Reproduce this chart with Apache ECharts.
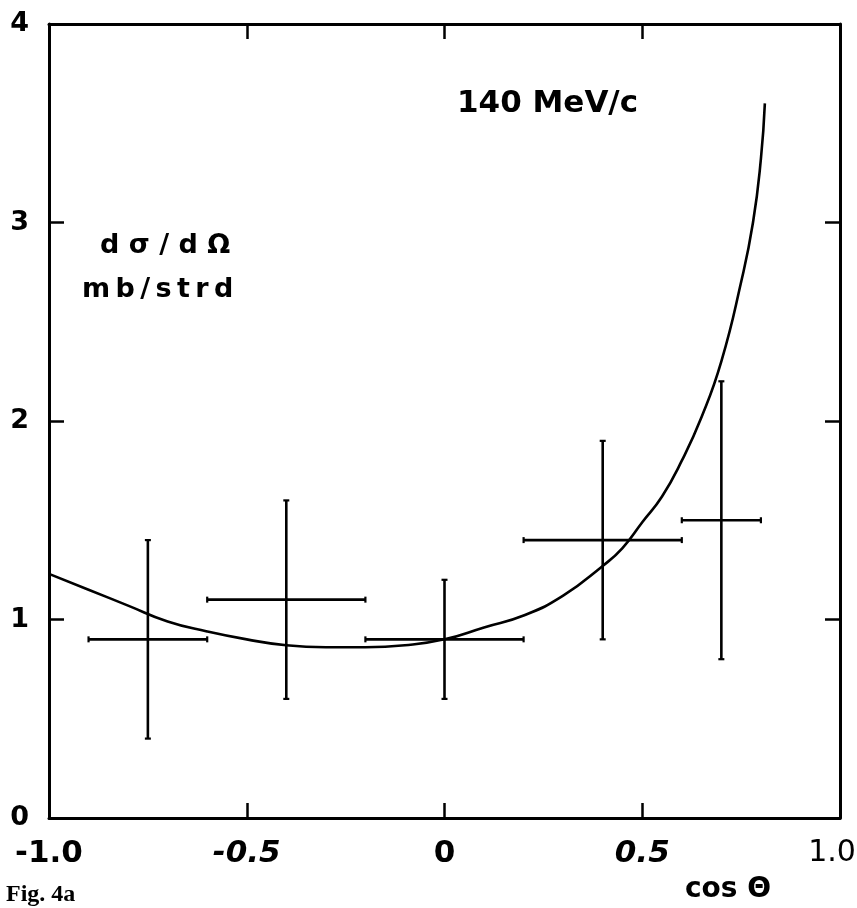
<!DOCTYPE html>
<html>
<head>
<meta charset="utf-8">
<script src="https://cdn.jsdelivr.net/npm/echarts@6/dist/echarts.min.js"></script>
<style>
  html, body { margin: 0; padding: 0; background: #ffffff; overflow: hidden; }
  #chart { width: 857px; height: 908px; }
</style>
</head>
<body>
<div id="chart"></div>
<script>
// Measured points: cos(theta), dσ/dΩ with horizontal bin and vertical error ranges
var pointX   = [-0.75, -0.4, 0.0, 0.4, 0.7];
var pointY   = [0.9, 1.1, 0.9, 1.4, 1.5];
var binLow   = [-0.9, -0.6, -0.2, 0.2, 0.6];
var binHigh  = [-0.6, -0.2, 0.2, 0.6, 0.8];
var errLow   = [0.4, 0.6, 0.6, 0.9, 0.8];
var errHigh  = [1.4, 1.6, 1.2, 1.9, 2.2];

// Theoretical curve
var curveX = [-1.0, -0.9, -0.8, -0.7, -0.6, -0.5, -0.4, -0.3, -0.2, -0.1, 0.0, 0.1, 0.2, 0.3, 0.4, 0.45, 0.5, 0.55, 0.6, 0.65, 0.7, 0.75, 0.78, 0.8, 0.81];
var curveY = [1.23, 1.15, 1.07, 0.99, 0.94, 0.90, 0.87, 0.86, 0.86, 0.87, 0.90, 0.96, 1.02, 1.12, 1.27, 1.36, 1.49, 1.62, 1.80, 2.02, 2.30, 2.70, 3.00, 3.32, 3.60];

// Axis tick labels
var xTickValues = [-1.0, -0.5, 0.0, 0.5, 1.0];
var xTickLabels = ['-1.0', '-0.5', '0', '0.5', '1.0'];
var xTickStyles = ['b', 'i', 'b', 'i', 'n'];
var yTickLabels = ['0', '1', '2', '3', '4'];

var FONT = 'DejaVu Sans';

var errorData = pointX.map(function (x, i) {
  return [x, pointY[i], binLow[i], binHigh[i], errLow[i], errHigh[i]];
});
var curveData = curveX.map(function (x, i) { return [x, curveY[i]]; });

function renderErrorBar(params, api) {
  var c  = api.coord([api.value(0), api.value(1)]);
  var xl = api.coord([api.value(2), api.value(1)]);
  var xh = api.coord([api.value(3), api.value(1)]);
  var yl = api.coord([api.value(0), api.value(4)]);
  var yh = api.coord([api.value(0), api.value(5)]);
  var cap = 3;
  var style = { stroke: '#000', lineWidth: 2.6, fill: null };
  var capStyle = { stroke: '#000', lineWidth: 2.2, fill: null };
  return {
    type: 'group',
    children: [
      { type: 'line', shape: { x1: xl[0], y1: c[1], x2: xh[0], y2: c[1] }, style: style },
      { type: 'line', shape: { x1: c[0], y1: yl[1], x2: c[0], y2: yh[1] }, style: style },
      { type: 'line', shape: { x1: xl[0], y1: c[1] - cap, x2: xl[0], y2: c[1] + cap }, style: capStyle },
      { type: 'line', shape: { x1: xh[0], y1: c[1] - cap, x2: xh[0], y2: c[1] + cap }, style: capStyle },
      { type: 'line', shape: { x1: c[0] - cap, y1: yl[1], x2: c[0] + cap, y2: yl[1] }, style: capStyle },
      { type: 'line', shape: { x1: c[0] - cap, y1: yh[1], x2: c[0] + cap, y2: yh[1] }, style: capStyle }
    ]
  };
}

var frameLine = { show: true, onZero: false, lineStyle: { color: '#000', width: 3 } };
var innerTick = { show: true, inside: true, length: 15, lineStyle: { color: '#000', width: 2.5 } };

var chart = echarts.init(document.getElementById('chart'), null, { renderer: 'canvas' });
chart.setOption({
  backgroundColor: '#ffffff',
  animation: false,
  grid: { left: 49, right: 17, top: 24, bottom: 90, containLabel: false, outerBoundsMode: 'none' },
  xAxis: [
    {
      type: 'value', position: 'bottom', min: -1, max: 1, interval: 0.5,
      axisLine: frameLine, axisTick: innerTick, splitLine: { show: false },
      axisLabel: {
        margin: 20,
        formatter: function (v) {
          for (var i = 0; i < xTickValues.length; i++) {
            if (Math.abs(v - xTickValues[i]) < 1e-9) {
              return '{' + xTickStyles[i] + '|' + xTickLabels[i] + '}';
            }
          }
          return '';
        },
        rich: {
          b: { fontFamily: FONT, fontWeight: 'bold', fontSize: 31, color: '#000' },
          i: { fontFamily: FONT, fontWeight: 'bold', fontStyle: 'italic', fontSize: 31, color: '#000' },
          n: { fontFamily: FONT, fontWeight: 'normal', fontSize: 30, color: '#000', padding: [0, 16, 0, 0] }
        }
      }
    },
    {
      type: 'value', position: 'top', min: -1, max: 1, interval: 0.5,
      axisLine: frameLine, axisTick: innerTick, splitLine: { show: false },
      axisLabel: { show: false }
    }
  ],
  yAxis: [
    {
      type: 'value', position: 'left', min: 0, max: 4, interval: 1,
      axisLine: frameLine, axisTick: innerTick, splitLine: { show: false },
      axisLabel: {
        margin: 20,
        fontFamily: FONT, fontWeight: 'bold', fontSize: 27, color: '#000',
        formatter: function (v) { return yTickLabels[Math.round(v)]; }
      }
    },
    {
      type: 'value', position: 'right', min: 0, max: 4, interval: 1,
      axisLine: frameLine, axisTick: innerTick, splitLine: { show: false },
      axisLabel: { show: false }
    }
  ],
  series: [
    {
      type: 'line',
      data: curveData,
      smooth: true,
      showSymbol: false,
      lineStyle: { color: '#000', width: 2.6 },
      z: 3
    },
    {
      type: 'custom',
      data: errorData,
      renderItem: renderErrorBar,
      encode: { x: 0, y: 1 },
      z: 4
    }
  ],
  graphic: [
    {
      type: 'text', left: 457, top: 88,
      style: { text: '140 MeV/c', font: 'bold 31px "DejaVu Sans"', fill: '#000' }
    },
    {
      type: 'text', left: 100, top: 232,
      style: { text: 'd σ / d Ω', font: 'bold 27px "DejaVu Sans"', fill: '#000' }
    },
    {
      type: 'text', left: 82, top: 276,
      style: { text: 'm\u2009b\u2009/\u2009s\u2009t\u2009r\u2009d', font: 'bold 27px "DejaVu Sans"', fill: '#000' }
    },
    {
      type: 'text', left: 685, top: 876,
      style: { text: 'cos Θ', font: 'bold 28px "DejaVu Sans"', fill: '#000' }
    },
    {
      type: 'text', left: 6, top: 883,
      style: { text: 'Fig. 4a', font: 'bold 24px "Liberation Serif"', fill: '#000' }
    }
  ]
});
</script>
</body>
</html>
